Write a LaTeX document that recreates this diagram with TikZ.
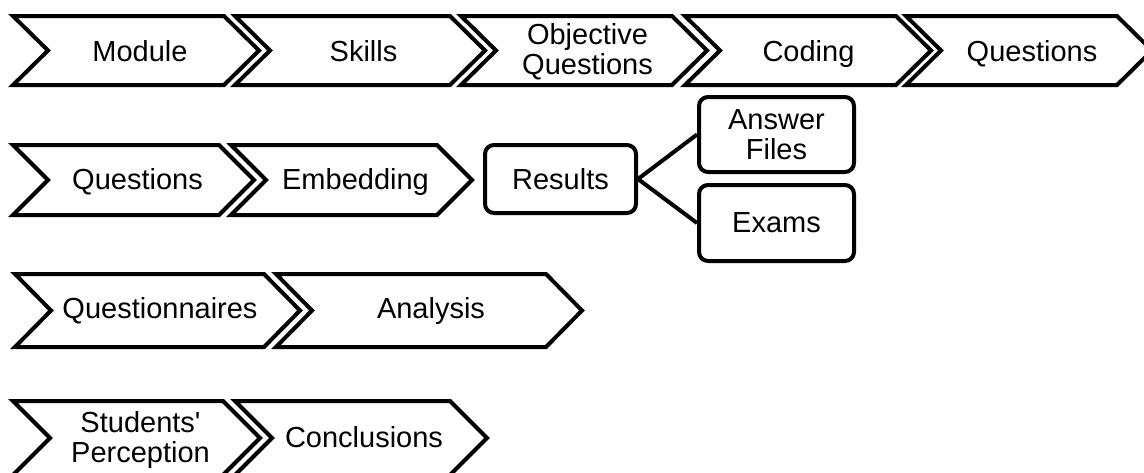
\documentclass[tikz,border=0pt]{standalone}
\usepackage{fontspec}
\setmainfont{Liberation Sans}[Ligatures=TeXOff]
\newcommand\chevronpath[6]{% L, W, T, B, d, name
  \draw[chev] (#1,#3) -- ({#1+#2-#5},#3) -- ({#1+#2},{(#3+#4)/2}) -- ({#1+#2-#5},#4) -- (#1,#4) -- ({#1+#5},{(#3+#4)/2}) -- cycle;
  \coordinate (#6) at ({#1+#2/2},{(#3+#4)/2});}
\begin{document}
\begin{tikzpicture}[x=1pt,y=-1pt,
  chev/.style={draw=black, fill=white, line width=4pt, line join=miter},
  lbl/.style={font=\fontsize{29}{30}\selectfont, align=center, inner sep=0pt, anchor=base},
  box/.style={draw=black, fill=white, line width=4pt, rounded corners=9pt, inner sep=0pt,
              font=\fontsize{29}{30}\selectfont, align=center},
  conn/.style={draw=black, line width=4pt}]
\useasboundingbox (0,0) rectangle (1144,472);
\clip (0,0) rectangle (1144,472);
% Row 1
\chevronpath{13}{246}{16}{85}{35}{c1}
\chevronpath{235}{250}{16}{85}{35}{c2}
\chevronpath{461}{246}{16}{85}{35}{c3}
\chevronpath{685}{246}{16}{85}{35}{c4}
\chevronpath{906}{246}{16}{85}{35}{c5}
\node[lbl] (t1) at (140,61) {Module};
\node[lbl] (t2) at (363.5,61) {Skills};
\node[lbl] (t3) at (587.5,74) {Objective\\Questions};
\node[lbl] (t4) at (808.5,61) {Coding};
\node[lbl] (t5) at (1032,61) {Questions};
% Row 2
\chevronpath{13}{241}{145}{215}{35}{d1}
\chevronpath{231}{241}{145}{215}{35}{d2}
\node[lbl] (u1) at (137.5,189) {Questions};
\node[lbl] (u2) at (355.5,189) {Embedding};
\node[box, minimum width=151pt, minimum height=68pt] (res) at (560.5,179) {Results};
\node[box, minimum width=155pt, minimum height=75pt] (ans) at (776.5,134.5) {Answer\\Files};
\node[box, minimum width=155pt, minimum height=76pt] (exa) at (776.5,223) {Exams};
\draw[conn] (res.east) -- (ans.west);
\draw[conn] (res.east) -- (exa.west);
% Row 3
\chevronpath{15}{285}{274}{347}{36}{e1}
\chevronpath{276}{306}{274}{347}{36}{e2}
\node[lbl] (v1) at (160,318.5) {Questionnaires};
\node[lbl] (v2) at (431,318.5) {Analysis};
% Row 4
\chevronpath{13}{247}{401}{475}{37}{f1}
\chevronpath{235}{252}{401}{475}{37}{f2}
\node[lbl] (w1) at (140.5,462) {Students'\\Perception};
\node[lbl] (w2) at (364,447.5) {Conclusions};
\end{tikzpicture}
\end{document}
